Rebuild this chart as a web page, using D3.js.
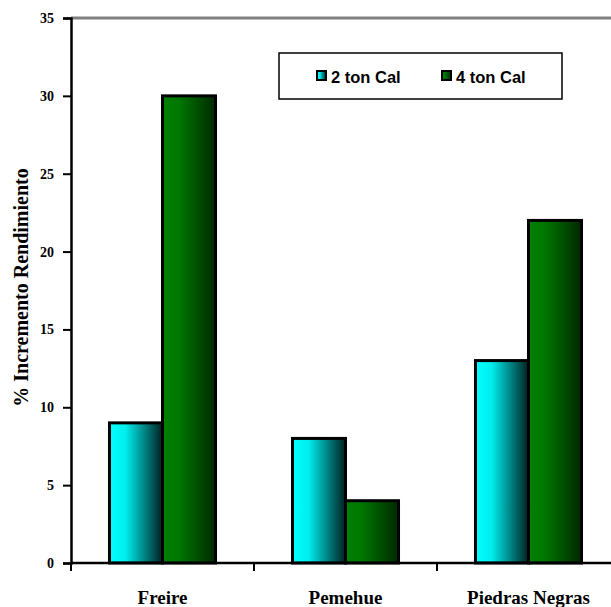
<!DOCTYPE html>
<html><head><meta charset="utf-8">
<script src="https://cdn.jsdelivr.net/npm/d3@7"></script>
<style>body{margin:0;background:#fff}svg{display:block}</style>
</head><body>
<script>
const categories = ["Freire", "Pemehue", "Piedras Negras"];
const seriesNames = ["2 ton Cal", "4 ton Cal"];
const values2ton = [9, 8, 13];
const values4ton = [30, 4, 22];
const yTicks = [0, 5, 10, 15, 20, 25, 30, 35];

(function(){
const W = 611, H = 607;
const svg = d3.select("body").append("svg").attr("width", W).attr("height", H);
const defs = svg.append("defs");
const g1 = defs.append("linearGradient").attr("id", "gCyan").attr("x1", "0").attr("x2", "1").attr("y1", "0").attr("y2", "0");
g1.append("stop").attr("offset", "0").attr("stop-color", "#00ffff");
g1.append("stop").attr("offset", "0.3").attr("stop-color", "#00eeee");
g1.append("stop").attr("offset", "1").attr("stop-color", "#002020");
const g2 = defs.append("linearGradient").attr("id", "gGreen").attr("x1", "0").attr("x2", "1").attr("y1", "0").attr("y2", "0");
g2.append("stop").attr("offset", "0").attr("stop-color", "#008000");
g2.append("stop").attr("offset", "0.3").attr("stop-color", "#007800");
g2.append("stop").attr("offset", "1").attr("stop-color", "#002800");
const fills = ["url(#gCyan)", "url(#gGreen)"];
const serif = "Liberation Serif, Times New Roman, serif";

const mLeft = 71, mTop = 18, mBottom = 563;
const x = d3.scaleBand().domain(categories).range([mLeft, mLeft + 183 * 3]).paddingInner(0).paddingOuter(0);
const y = d3.scaleLinear().domain([0, 35]).range([mBottom, mTop]);
const xs = d3.scaleBand().domain(seriesNames).range([0, x.bandwidth()]).paddingInner(0).paddingOuter(0.726);

const data = categories.map((c, i) => ({ cat: c, vals: [values2ton[i], values4ton[i]] }));

svg.append("line").attr("x1", mLeft).attr("x2", W).attr("y1", y(35)).attr("y2", y(35))
  .attr("stroke", "#808080").attr("stroke-width", 3);

const grp = svg.selectAll("g.cat").data(data).enter().append("g").attr("class", "cat")
  .attr("transform", d => `translate(${x(d.cat)},0)`);
grp.selectAll("rect").data(d => d.vals.map((v, k) => ({ v, k }))).enter().append("rect")
  .attr("x", d => xs(seriesNames[d.k]))
  .attr("width", xs.bandwidth())
  .attr("y", d => y(d.v))
  .attr("height", d => y(0) - y(d.v))
  .attr("fill", d => fills[d.k])
  .attr("stroke", "#000").attr("stroke-width", 3);

const yAx = svg.append("g").attr("transform", `translate(${mLeft},0)`)
  .call(d3.axisLeft(y).tickValues(yTicks).tickSize(8).tickPadding(9));
yAx.select(".domain").attr("stroke", "#000").attr("stroke-width", 2.5);
yAx.selectAll(".tick line").attr("stroke", "#000").attr("stroke-width", 2);
yAx.selectAll("text").attr("font-family", serif)
  .attr("font-weight", "bold").attr("font-size", 14).attr("fill", "#000");

const xAx = svg.append("g").attr("transform", `translate(0,${mBottom})`)
  .call(d3.axisBottom(x).tickSize(0).tickPadding(28));
xAx.select(".domain").remove();
svg.append("line").attr("x1", mLeft).attr("x2", W).attr("y1", mBottom).attr("y2", mBottom)
  .attr("stroke", "#000").attr("stroke-width", 2.5);
const bounds = [x("Freire"), x("Pemehue"), x("Piedras Negras")];
svg.selectAll("line.xt").data(bounds).enter().append("line").attr("class", "xt")
  .attr("x1", d => d).attr("x2", d => d).attr("y1", mBottom).attr("y2", mBottom + 8)
  .attr("stroke", "#000").attr("stroke-width", 2);
xAx.selectAll("text").attr("font-family", serif)
  .attr("font-weight", "bold").attr("font-size", 19).attr("fill", "#000");

svg.append("text").attr("transform", `translate(28,${(mTop + mBottom) / 2 - 3}) rotate(-90)`)
  .attr("text-anchor", "middle")
  .attr("font-family", serif)
  .attr("font-weight", "bold").attr("font-size", 20).text("% Incremento Rendimiento");

const lg = svg.append("g");
lg.append("rect").attr("x", 279).attr("y", 53).attr("width", 283).attr("height", 46)
  .attr("fill", "#fff").attr("stroke", "#000").attr("stroke-width", 1.5);
const lx = [317, 442];
seriesNames.forEach((s, k) => {
  lg.append("rect").attr("x", lx[k]).attr("y", 71).attr("width", 9).attr("height", 9)
    .attr("fill", fills[k]).attr("stroke", "#000").attr("stroke-width", 2);
  lg.append("text").attr("x", lx[k] + 14).attr("y", 83)
    .attr("font-family", "Liberation Sans, Arial, sans-serif").attr("font-weight", "bold")
    .attr("font-size", 16.5).text(s);
});
})();
</script>
</body></html>
